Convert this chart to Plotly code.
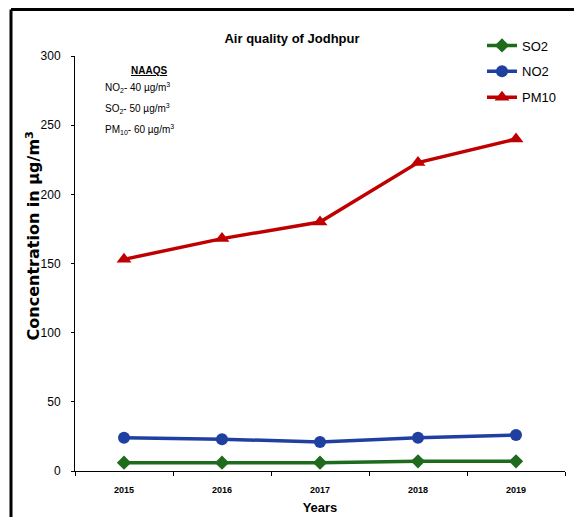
import plotly.graph_objects as go

years = ["2015", "2016", "2017", "2018", "2019"]
so2 = [6, 6, 6, 7, 7]
no2 = [24, 23, 21, 24, 26]
pm10 = [153, 168, 180, 223, 240]

y_ticks = [0, 50, 100, 150, 200, 250, 300]

FONT = "Liberation Sans Narrow, Liberation Sans, Arial, sans-serif"

fig = go.Figure()
fig.add_trace(go.Scatter(x=years, y=so2, name="SO2", mode="lines+markers",
                         legendgroup="a",
                         line=dict(color="#1E6B1E", width=3.5),
                         marker=dict(symbol="diamond", size=11, color="#1E6B1E")))
fig.add_trace(go.Scatter(x=years, y=no2, name="NO2", mode="lines+markers",
                         legendgroup="b",
                         line=dict(color="#1F40A0", width=3.5),
                         marker=dict(symbol="circle", size=12, color="#1F40A0")))
fig.add_trace(go.Scatter(x=years, y=pm10, name="PM10", mode="lines+markers",
                         legendgroup="c",
                         line=dict(color="#C00000", width=3.5),
                         marker=dict(symbol="triangle-up", size=13, color="#C00000")))

W, H = 582, 517
OFF = 8  # page offset of the figure inside the window
# plot area in window pixels (from the reference)
PL, PR, PT, PB = 75, 565, 55.5, 470.7
L = PL - OFF
T = PT - OFF
R = W - (PR - OFF)
B = H - (PB - OFF)
pw, ph = PR - PL, PB - PT

def px(x):
    return (x - PL) / pw

def py(y):
    return 1 - (y - PT) / ph

fig.update_layout(
    width=W, height=H,
    margin=dict(l=L, r=R, t=T, b=B, autoexpand=False),
    paper_bgcolor="white", plot_bgcolor="white",
    font=dict(family=FONT, color="black"),
    title=dict(text="<b>Air quality of Jodhpur</b>", xref="container",
               x=(292 - OFF) / W, xanchor="center",
               y=1 - (38 - OFF) / H, yanchor="middle", font=dict(size=13)),
    showlegend=True,
    legend=dict(x=px(482), y=py(30), xanchor="left", yanchor="top",
                font=dict(size=13), bgcolor="rgba(0,0,0,0)",
                traceorder="grouped", tracegroupgap=6, itemwidth=30),
    xaxis=dict(type="category", range=[-0.5, len(years) - 0.5],
               showgrid=False, showline=True, linecolor="black",
               linewidth=1, ticks="outside", tickson="boundaries", ticklen=4,
               tickcolor="black", tickfont=dict(size=9, family=FONT),
               ticklabelstandoff=10,
               title=dict(text="<b>Years</b>", font=dict(size=13), standoff=9),
               zeroline=False),
    yaxis=dict(range=[0, 300], tickvals=y_ticks, showgrid=False, showline=True,
               linecolor="black", linewidth=1, ticks="outside", ticklen=3,
               tickcolor="black", tickfont=dict(size=12), ticklabelstandoff=8,
               zeroline=False),
)

fig.update_xaxes(tickprefix="<b>", ticksuffix="</b>")

# y-axis title
fig.add_annotation(x=px(33), y=py(236), xref="paper", yref="paper",
                   text="<b>Concentration in µg/m<sup>3</sup></b>", textangle=-90,
                   showarrow=False, font=dict(size=16, family="DejaVu Sans"),
                   xanchor="center", yanchor="middle")

# NAAQS annotation
fig.add_annotation(x=px(149), y=py(70), xref="paper", yref="paper",
                   text="<b><u>NAAQS</u></b>", showarrow=False,
                   font=dict(size=10), xanchor="center", yanchor="middle")
naaqs = ["NO<sub>2</sub>- 40 µg/m<sup>3</sup>",
         "SO<sub>2</sub>- 50 µg/m<sup>3</sup>",
         "PM<sub>10</sub>- 60 µg/m<sup>3</sup>"]
for i, t in enumerate(naaqs):
    fig.add_annotation(x=px(103), y=py(87 + 21 * i), xref="paper", yref="paper",
                       text=t, showarrow=False, font=dict(size=10),
                       xanchor="left", yanchor="middle")

# outer frame (partially visible)
fig.add_shape(type="line", xref="paper", yref="paper",
              x0=px(11), x1=px(W + 20), y0=py(9), y1=py(9),
              line=dict(color="black", width=3))
fig.add_shape(type="line", xref="paper", yref="paper",
              x0=px(11), x1=px(11), y0=py(9), y1=py(H + 20),
              line=dict(color="black", width=3))

fig.write_html("out.html")
